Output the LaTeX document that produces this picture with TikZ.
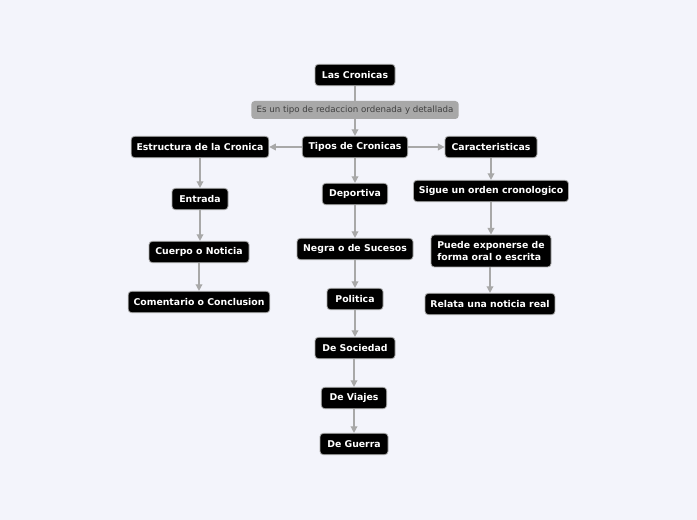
\documentclass[tikz,border=0pt]{standalone}
\usepackage{fontspec}
\setmainfont{DejaVu Sans}
\usetikzlibrary{arrows.meta}
\definecolor{bg}{HTML}{F3F4FB}
\definecolor{ln}{HTML}{A8A8A8}
\tikzset{
 box/.style={fill=black,draw=ln,line width=0.6pt,rounded corners=2.5pt,text=white,font=\bfseries\fontsize{7}{8.5}\selectfont,minimum height=16pt,inner xsep=4pt},
 lab/.style={fill=ln,rounded corners=2.5pt,text=black!75,font=\fontsize{6.5}{8}\selectfont,minimum height=13.5pt,inner xsep=4pt},
 con/.style={draw=ln,line width=1.1pt,-{Triangle[length=5pt,width=5pt]}}
}
\begin{document}
\begin{tikzpicture}[x=0.75pt,y=-0.75pt]
\fill[bg] (0,0) rectangle (697,520);
\useasboundingbox (0,0) rectangle (697,520);
\node[box,minimum width=60pt] (lc) at (355,75) {Las Cronicas};
\node[lab,minimum width=148pt] (es) at (355,110) {Es un tipo de redaccion ordenada y detallada};
\node[box,minimum width=79pt] (tc) at (355,147) {Tipos de Cronicas};
\node[box,minimum width=103pt] (ec) at (200,147) {Estructura de la Cronica};
\node[box,minimum width=69pt] (ca) at (491,147) {Caracteristicas};
\node[box,minimum width=42pt] (en) at (200,199) {Entrada};
\node[box,minimum width=75pt] (cn) at (199,252) {Cuerpo o Noticia};
\node[box,minimum width=106pt] (cc) at (199,302) {Comentario o Conclusion};
\node[box,minimum width=49pt] (de) at (355,194) {Deportiva};
\node[box,minimum width=87pt] (ns) at (355,249) {Negra o de Sucesos};
\node[box,minimum width=42pt] (po) at (355,299) {Politica};
\node[box,minimum width=60pt] (so) at (355,348) {De Sociedad};
\node[box,minimum width=49pt] (vi) at (354,398) {De Viajes};
\node[box,minimum width=51pt] (gu) at (354,444) {De Guerra};
\node[box,minimum width=115pt] (si) at (491,191) {Sigue un orden cronologico};
\node[box,minimum width=90pt,minimum height=24pt,align=left] (pu) at (491,251) {Puede exponerse de\\forma oral o escrita};
\node[box,minimum width=97pt] (re) at (490,304) {Relata una noticia real};
\draw[draw=ln,line width=1.1pt] (lc) -- (es);
\draw[con] (es) -- (tc);
\draw[con] (tc) -- (ec);
\draw[con] (tc) -- (ca);
\draw[con] (ec.south -| en) -- (en);
\draw[con] (en) -- (en |- cn.north);
\draw[con] (cn) -- (cc);
\draw[con] (tc) -- (de);
\draw[con] (de) -- (ns);
\draw[con] (ns) -- (po);
\draw[con] (po) -- (so);
\draw[con] (so.south -| vi) -- (vi);
\draw[con] (vi) -- (gu);
\draw[con] (ca) -- (si);
\draw[con] (si) -- (pu);
\draw[con] (pu.south -| re) -- (re);
\end{tikzpicture}
\end{document}
